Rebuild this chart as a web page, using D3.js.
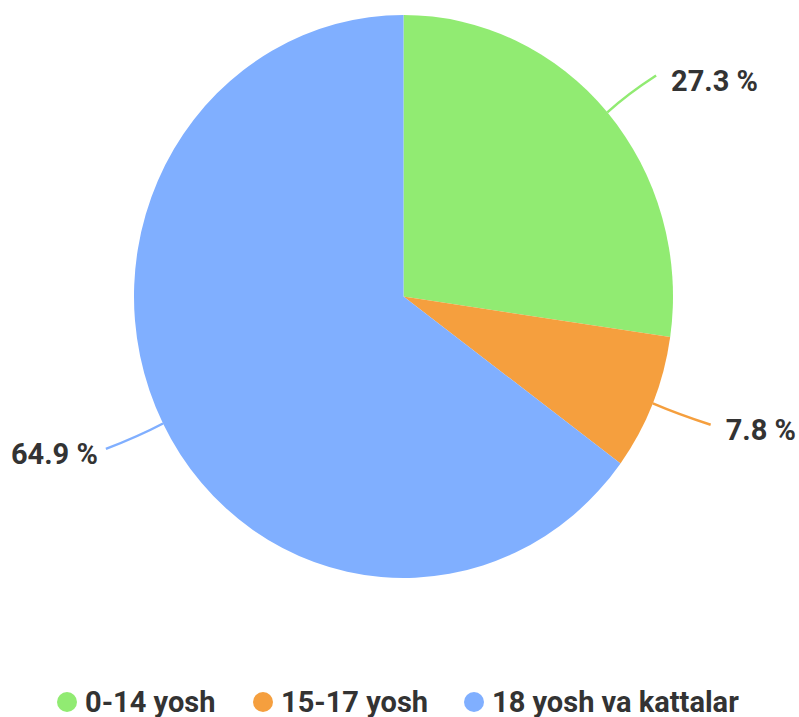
<!DOCTYPE html>
<html>
<head>
<meta charset="utf-8">
<script src="https://cdn.jsdelivr.net/npm/d3@7"></script>
<style>
  body { margin: 0; background: #fff; }
  text { font-family: Roboto, "Liberation Sans", sans-serif; font-weight: 700; fill: #333; }
</style>
</head>
<body>
<svg width="799" height="717"></svg>
<script>
var categories = ["0-14 yosh", "15-17 yosh", "18 yosh va kattalar"];
var values = [27.3, 7.8, 64.9];
var colors = ["#91eb72", "#f59f3e", "#80afff"];

var svg = d3.select("svg"),
    cx = 403.5, cy = 296.5,
    rx = 269.5, ry = 281.5;

var pie = d3.pie().sort(null).value(function(d) { return d; });
var arcs = pie(values);

var arc = d3.arc().innerRadius(0).outerRadius(rx);

// the reference pie is a little taller than wide
var g = svg.append("g")
    .attr("transform", "translate(" + cx + "," + cy + ") scale(1," + (ry / rx) + ")");

g.selectAll("path")
    .data(arcs)
  .enter().append("path")
    .attr("d", arc)
    .style("fill", function(d, i) { return colors[i]; });

// point on the ellipse edge at angle a (0 = top, clockwise), factor k
function pt(a, k) {
  return [cx + rx * k * Math.sin(a), cy - ry * k * Math.cos(a)];
}

var labels = svg.append("g");
arcs.forEach(function(d, i) {
  var a = (d.startAngle + d.endAngle) / 2,
      right = Math.sin(a) > 0,
      p0 = pt(a, 1), p1 = pt(a, 1.1), p2 = pt(a, 1.2);
  p2[0] += right ? 8 : -9;
  var path = d3.path();
  path.moveTo(p0[0], p0[1]);
  path.quadraticCurveTo(p1[0], p1[1], p2[0], p2[1]);
  labels.append("path")
      .attr("d", path.toString())
      .style("fill", "none")
      .style("stroke", colors[i])
      .style("stroke-width", 2.5);
  labels.append("text")
      .attr("x", right ? p2[0] + 15 : p2[0] - 8)
      .attr("y", p2[1] + 5)
      .attr("dy", "0.35em")
      .attr("text-anchor", right ? "start" : "end")
      .style("font-size", "29px")
      .text(d3.format(".1f")(values[i]) + " %");
});

// legend
var legendX = [67, 263, 474];
var legend = svg.append("g").selectAll("g")
    .data(categories)
  .enter().append("g")
    .attr("transform", function(d, i) { return "translate(" + legendX[i] + ",702)"; });

legend.append("circle")
    .attr("r", 10)
    .style("fill", function(d, i) { return colors[i]; });

legend.append("text")
    .attr("x", 18)
    .attr("dy", "0.33em")
    .style("font-size", "29px")
    .text(function(d) { return d; });
</script>
</body>
</html>
